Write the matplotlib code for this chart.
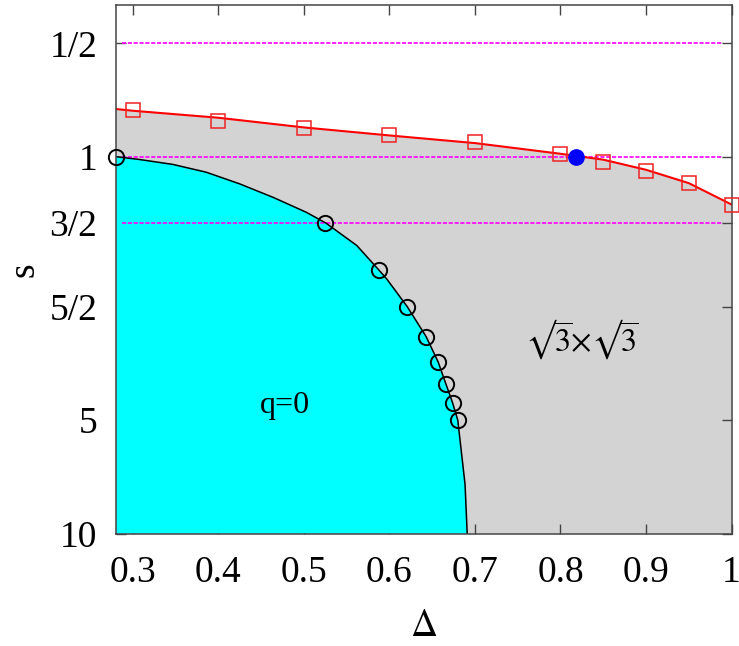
import numpy as np
import matplotlib
matplotlib.use('Agg')
from matplotlib import pyplot as plt
from matplotlib.ticker import FixedLocator, FixedFormatter, NullLocator

plt.rcParams['font.family'] = ['Liberation Serif', 'DejaVu Serif']
plt.rcParams['mathtext.fontset'] = 'stix'

# red squares (upper boundary, data) and the red fitted line
delta_sq = [0.3, 0.4, 0.5, 0.6, 0.7, 0.8, 0.85, 0.9, 0.95, 1.0]
s_sq = [0.753, 0.804, 0.841, 0.876, 0.915, 0.982, 1.033, 1.094, 1.177, 1.344]
delta_red = [0.28, 0.3, 0.4, 0.5, 0.6, 0.7, 0.8, 0.85, 0.9, 0.95, 1.0]
s_red = [0.747, 0.755, 0.788, 0.836, 0.878, 0.920, 0.982, 1.018, 1.083, 1.175, 1.339]

# black circles and the q=0 boundary line
delta_c = [0.281, 0.525, 0.588, 0.621, 0.643, 0.657, 0.666, 0.674, 0.680]
s_c = [1.0, 1.5, 2.0, 2.5, 3.0, 3.5, 4.0, 4.5, 5.0]
delta_blk = [0.281, 0.308, 0.347, 0.386, 0.425, 0.464, 0.503, 0.526, 0.562, 0.588,
             0.597, 0.621, 0.643, 0.657, 0.666, 0.674, 0.680, 0.6885, 0.691]
s_blk = [1.0, 1.017, 1.048, 1.099, 1.180, 1.281, 1.404, 1.5, 1.72, 2.0,
         2.11, 2.5, 3.0, 3.5, 4.0, 4.5, 5.0, 7.4, 10.0]

# blue point
delta_blue = [0.818]
s_blue = [1.0]

# dotted reference lines
s_ref = [0.5, 1.0, 1.5]

xticks = [0.3, 0.4, 0.5, 0.6, 0.7, 0.8, 0.9, 1.0]
xticklabels = ['0.3', '0.4', '0.5', '0.6', '0.7', '0.8', '0.9', '1']
yticks = [0.5, 1, 1.5, 2.5, 5, 10]
yticklabels = ['1/2', '1', '3/2', '5/2', '5', '10']

x0, x1 = 0.28, 1.0
y_top, y_bot = 0.397, 10

fig = plt.figure(figsize=(7.39, 6.46), dpi=100)
ax = fig.add_axes([0.1563, 0.1738, 0.990 - 0.1563, 0.9915 - 0.1738])
ax.set_yscale('log')

# gray region under red line
ax.fill(delta_red + [x1, x0], s_red + [y_bot, y_bot], color='#d3d3d3', lw=0, zorder=1)
# cyan region
ax.fill(delta_blk + [x0, x0], s_blk + [y_bot, s_blk[0]], color='#00ffff', lw=0, zorder=2)

ax.hlines(s_ref, 0.288, 0.99, colors='#ff00ff', linestyles=(0, (2.5, 1)), lw=1.2, zorder=3)

ax.plot(delta_red, s_red, color='red', lw=1.5, zorder=4)
ax.plot(delta_blk, s_blk, color='black', lw=1.1, zorder=4)
ax.plot(delta_sq, s_sq, ls='none', marker='s', ms=10, mfc='none', mec='#ee2222', mew=1.1,
        zorder=9, clip_on=False)
ax.plot(delta_c, s_c, ls='none', marker='o', ms=11, mfc='none', mec='black', mew=1.4,
        zorder=9, clip_on=False)
ax.plot(delta_blue, s_blue, ls='none', marker='o', ms=11, color='blue', zorder=10)

ax.text(0.478, 4.58, 'q=0', fontsize=23, ha='center', va='center', zorder=7)
ax.text(0.8246, 3.04, r'$\mathrm{√}\overline{3}{×}\mathrm{√}\overline{3}$', fontsize=23,
        ha='center', va='center', zorder=7)

ax.set_xlim(x0, x1)
ax.set_ylim(y_bot, y_top)

ax.xaxis.set_major_locator(FixedLocator(xticks))
ax.xaxis.set_major_formatter(FixedFormatter(xticklabels))
ax.yaxis.set_major_locator(FixedLocator(yticks))
ax.yaxis.set_major_formatter(FixedFormatter(yticklabels))
ax.yaxis.set_minor_locator(NullLocator())
ax.xaxis.set_minor_locator(NullLocator())

ax.tick_params(direction='in', length=7, width=1, color='#444444', top=True, right=True,
               labelsize=27)
ax.tick_params(axis='x', pad=16)
ax.tick_params(axis='y', pad=13)
for sp in ax.spines.values():
    sp.set_color('#444444')
    sp.set_linewidth(1.1)
    sp.set_zorder(8)

ax.set_xlabel(r'$\Delta$', fontsize=27, labelpad=14)
ax.set_ylabel('s', fontsize=27, labelpad=6)

fig.savefig('out.png', dpi=100)
